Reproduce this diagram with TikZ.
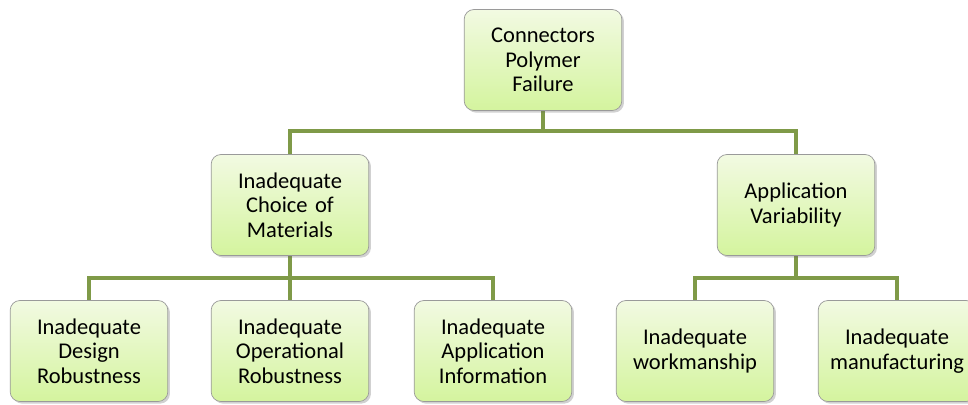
\documentclass[tikz,border=0pt]{standalone}
\usepackage{fontspec}
\setmainfont{Carlito}
\usetikzlibrary{shadows,backgrounds}
\definecolor{boxtop}{HTML}{F2FAE2}
\definecolor{boxbot}{HTML}{D4F49E}
\definecolor{boxline}{HTML}{9A9A9A}
\definecolor{branch}{HTML}{7F9A48}
\begin{document}
\begin{tikzpicture}[x=0.025cm,y=-0.025cm,
  box/.style={draw=boxline, line width=0.5pt, rounded corners=7pt,
    top color=boxtop, bottom color=boxbot,
    minimum width=3.9cm, minimum height=2.525cm, inner sep=2pt,
    align=center, text width=3.8cm,
    font=\fontsize{16pt}{17.4pt}\selectfont,
    drop shadow={shadow xshift=1.5pt, shadow yshift=-1.5pt, opacity=0.3, fill=black!60}},
  link/.style={draw=branch, line width=2.2pt}]
\useasboundingbox (0,0) rectangle (968,404);
\clip (0,0) rectangle (968,404);
% junction points of the branches
\coordinate (busA) at (543,131);
\coordinate (busB) at (290,278);
\coordinate (busC) at (796,278);
% boxes
\node[box] (top) at (543,60) {Connectors\\Polymer\\Failure};
\node[box] (ml) at (290,205) {Inadequate\\Choice of\\Materials};
\node[box] (mr) at (796,205) {Application\\Variability};
\node[box] (b1) at (89,351) {Inadequate\\Design\\Robustness};
\node[box] (b2) at (290,351) {Inadequate\\Operational\\Robustness};
\node[box] (b3) at (493,351) {Inadequate\\Application\\Information};
\node[box] (b4) at (695,351) {Inadequate\\workmanship};
\node[box] (b5) at (897,351) {Inadequate\\manufacturing};
% connectors behind the boxes
\begin{pgfonlayer}{background}
\draw[link] (top.south) -- (busA);
\draw[link] (ml.north) |- (busA) -| (mr.north);
\draw[link] (ml.south) -- (busB);
\draw[link] (b1.north) |- (busB) -| (b3.north);
\draw[link] (busB) -- (b2.north);
\draw[link] (mr.south) -- (busC);
\draw[link] (b4.north) |- (busC) -| (b5.north);
\end{pgfonlayer}
\end{tikzpicture}
\end{document}
